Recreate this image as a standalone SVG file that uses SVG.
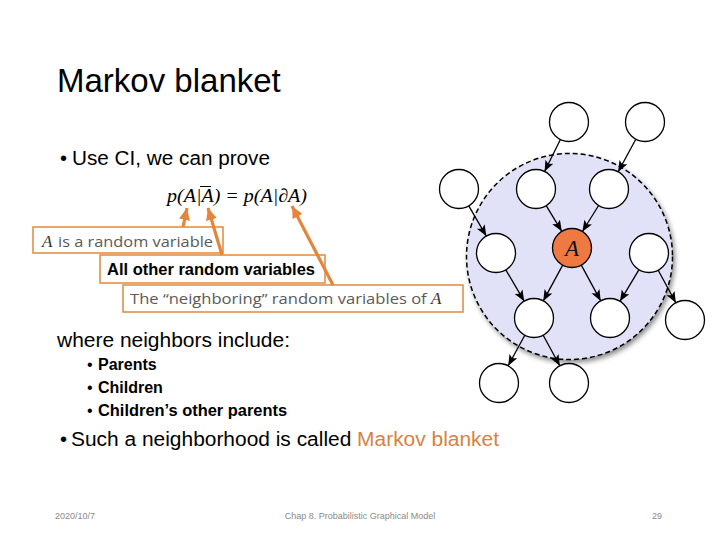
<svg xmlns="http://www.w3.org/2000/svg" width="720" height="540" viewBox="0 0 720 540">
<style>
.sans{font-family:"Liberation Sans",Arial,sans-serif;fill:#000}
.gray{font-family:"Open Sans","Liberation Sans",sans-serif;fill:#5a5a5a;font-size:15px}
.math{font-family:"Liberation Serif","Times New Roman",serif;font-style:italic}
.box{fill:#fff;stroke:#E0893F;stroke-width:1.5}
.oarrow{stroke:#E5853B;stroke-width:3.2;fill:none;marker-end:url(#oh)}
.node{fill:#fff;stroke:#000;stroke-width:1.3}
.edge{stroke:#000;stroke-width:1.3;fill:none;marker-end:url(#ah)}
.foot{font-family:"Liberation Sans",Arial,sans-serif;fill:#8a8a8a;font-size:9px}
</style>
<defs>
<marker id="ah" markerUnits="userSpaceOnUse" markerWidth="12" markerHeight="10" refX="11" refY="4.5" orient="auto">
<path d="M0,0 L11,4.5 L0,9 L2.5,4.5 Z" fill="#000"/>
</marker>
<marker id="oh" markerUnits="userSpaceOnUse" markerWidth="14" markerHeight="12" refX="12" refY="5.5" orient="auto">
<path d="M0,0 L12,5.5 L0,11 Z" fill="#E5853B"/>
</marker>
<filter id="sh" x="-20%" y="-20%" width="140%" height="140%">
<feGaussianBlur in="SourceAlpha" stdDeviation="2.5"/>
<feOffset dx="2" dy="3" result="b"/>
<feComponentTransfer><feFuncA type="linear" slope="0.45"/></feComponentTransfer>
<feMerge><feMergeNode/><feMergeNode in="SourceGraphic"/></feMerge>
</filter>
</defs>
<rect width="720" height="540" fill="#fff"/>

<g id="title"><text class="sans" x="57" y="92" font-size="33">Markov blanket</text></g>
<g id="bullet1"><text class="sans" x="60" y="165" font-size="20">•</text><text class="sans" x="72" y="165" font-size="20" textLength="198" lengthAdjust="spacingAndGlyphs">Use CI, we can prove</text></g>

<g id="formula"><text class="math" x="167" y="202" font-size="19" textLength="140" lengthAdjust="spacingAndGlyphs">p(A|A) = p(A|∂A)</text>
<line x1="200" y1="186.5" x2="211" y2="186.5" stroke="#000" stroke-width="1"/></g>

<g id="box1"><rect class="box" x="33" y="227" width="190" height="26"/>
<text class="gray" x="42" y="247"><tspan class="math" font-size="17" fill="#333">A</tspan><tspan x="58" textLength="155" lengthAdjust="spacingAndGlyphs">is a random variable</tspan></text></g>
<g id="box2"><rect class="box" x="100" y="255" width="225" height="28"/>
<text class="sans" x="107" y="275" font-size="16.5" font-weight="bold" textLength="208" lengthAdjust="spacingAndGlyphs">All other random variables</text></g>
<g id="box3"><rect class="box" x="123" y="285" width="340" height="27"/>
<text class="gray" x="130" y="304"><tspan textLength="301" lengthAdjust="spacingAndGlyphs">The “neighboring” random variables of </tspan><tspan class="math" font-size="17" fill="#333">A</tspan></text></g>

<g id="callouts">
<line class="oarrow" x1="183" y1="227" x2="187" y2="208"/>
<line class="oarrow" x1="222" y1="255" x2="208" y2="208"/>
<line class="oarrow" x1="333" y1="285" x2="292" y2="206"/>
</g>

<g id="blanket"><circle cx="569.5" cy="256.5" r="103" fill="#E1E1F8" stroke="#000" stroke-width="1.5" stroke-dasharray="5,3" filter="url(#sh)"/></g>

<g id="connectors">
<line class="edge" x1="560.4" y1="139.5" x2="544.6" y2="171.5"/>
<line class="edge" x1="635.8" y1="139.2" x2="618.2" y2="171.8"/>
<line class="edge" x1="468.8" y1="205.9" x2="486.3" y2="236.1"/>
<line class="edge" x1="546.2" y1="205.7" x2="561.8" y2="231.3"/>
<line class="edge" x1="598.6" y1="205.5" x2="582.4" y2="231.5"/>
<line class="edge" x1="505.8" y1="269.8" x2="524.2" y2="301.2"/>
<line class="edge" x1="562.7" y1="265.1" x2="543.3" y2="300.9"/>
<line class="edge" x1="581.3" y1="265.1" x2="600.7" y2="300.9"/>
<line class="edge" x1="639" y1="269.7" x2="620" y2="301.3"/>
<line class="edge" x1="658.2" y1="270.2" x2="675.8" y2="302.8"/>
<line class="edge" x1="524.8" y1="335.2" x2="508.2" y2="365.8"/>
<line class="edge" x1="543.2" y1="335.2" x2="559.8" y2="365.8"/>
</g>

<g id="t1"><circle class="node" cx="569" cy="122" r="19.5"/></g>
<g id="t2"><circle class="node" cx="645" cy="122" r="19.5"/></g>
<g id="o1"><circle class="node" cx="459" cy="189" r="19.5"/></g>
<g id="p1"><circle class="node" cx="536" cy="189" r="19.5"/></g>
<g id="p2"><circle class="node" cx="609" cy="189" r="19.5"/></g>
<g id="c1"><circle class="node" cx="496" cy="253" r="19.5"/></g>
<g id="A"><circle cx="572" cy="248" r="19.5" fill="#EE7942" stroke="#000" stroke-width="1.3"/>
<text class="math" x="572" y="256" font-size="23" text-anchor="middle" fill="#111">A</text></g>
<g id="c2"><circle class="node" cx="649" cy="253" r="19.5"/></g>
<g id="k1"><circle class="node" cx="534" cy="318" r="19.5"/></g>
<g id="k2"><circle class="node" cx="610" cy="318" r="19.5"/></g>
<g id="o2"><circle class="node" cx="685" cy="320" r="19.5"/></g>
<g id="b1"><circle class="node" cx="499" cy="383" r="19.5"/></g>
<g id="b2"><circle class="node" cx="569" cy="383" r="19.5"/></g>

<g id="neighbors">
<text class="sans" x="57" y="347" font-size="20" textLength="233" lengthAdjust="spacingAndGlyphs">where neighbors include:</text>
<text class="sans" x="87" y="370" font-size="16">•</text><text class="sans" x="98" y="370" font-size="16" font-weight="bold">Parents</text>
<text class="sans" x="87" y="393" font-size="16">•</text><text class="sans" x="98" y="393" font-size="16" font-weight="bold">Children</text>
<text class="sans" x="87" y="416" font-size="16">•</text><text class="sans" x="98" y="416" font-size="16" font-weight="bold" textLength="189" lengthAdjust="spacingAndGlyphs">Children’s other parents</text>
</g>
<g id="bullet2"><text class="sans" x="60" y="446" font-size="20">•</text><text class="sans" x="71" y="446" font-size="20" textLength="428" lengthAdjust="spacingAndGlyphs">Such a neighborhood is called <tspan fill="#D8823F">Markov blanket</tspan></text></g>

<g id="footer">
<text class="foot" x="55" y="519">2020/10/7</text>
<text class="foot" x="360" y="519" text-anchor="middle">Chap 8. Probabilistic Graphical Model</text>
<text class="foot" x="662" y="519" text-anchor="end">29</text>
</g>
</svg>
